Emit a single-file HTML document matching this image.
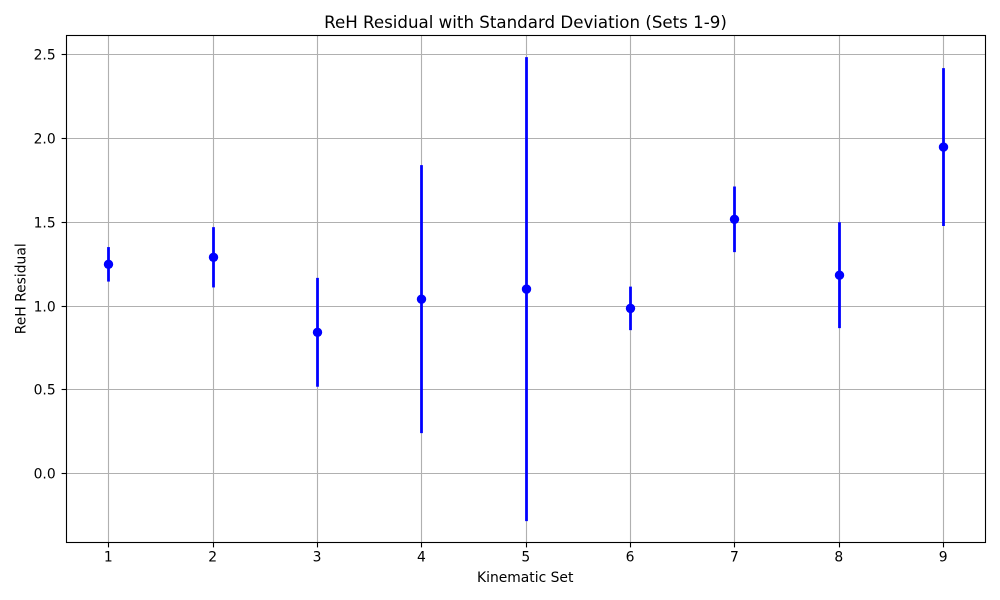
<!DOCTYPE html>
<html lang="en">
<head>
<meta charset="utf-8">
<title>ReH Residual with Standard Deviation (Sets 1-9)</title>
<style>
  html, body { margin: 0; padding: 0; background: #fff; }
  svg { display: block; }
  text { font-family: "DejaVu Sans", "Liberation Sans", sans-serif; fill: #000; }
</style>
</head>
<body>
<svg id="chart" xmlns="http://www.w3.org/2000/svg" width="1000" height="600" viewBox="0 0 1000 600">
  <rect x="0" y="0" width="1000" height="600" fill="#fff"/>
  <g id="grid"></g>
  <g id="series"></g>
  <rect x="66.5" y="35.5" width="919" height="507" fill="none" stroke="#000" stroke-width="1.11"/>
  <g id="ticks"></g>
  <text x="525.5" y="28" font-size="16.67" text-anchor="middle">ReH Residual with Standard Deviation (Sets 1-9)</text>
  <text x="525.2" y="582" font-size="13.89" text-anchor="middle">Kinematic Set</text>
  <text x="0" y="0" font-size="13.89" text-anchor="middle" transform="translate(25.5 288.8) rotate(-90)">ReH Residual</text>
</svg>
<script>
const kinematicSets = [1, 2, 3, 4, 5, 6, 7, 8, 9];
const residualMeans = [1.25, 1.292, 0.844, 1.042, 1.102, 0.987, 1.519, 1.185, 1.95];
const residualStds = [0.103, 0.18, 0.325, 0.80, 1.385, 0.13, 0.196, 0.316, 0.471];
const xTickLabels = ["1", "2", "3", "4", "5", "6", "7", "8", "9"];
const yTickValues = [0, 0.5, 1, 1.5, 2, 2.5];
const yTickLabels = ["0.0", "0.5", "1.0", "1.5", "2.0", "2.5"];

const NS = "http://www.w3.org/2000/svg";
const plot = { left: 66.5, right: 985.5, top: 35.5, bottom: 542.5 };
const xScale = function (v) { return 108.75 + (v - 1) * 104.35; };
const yScale = function (v) { return 473.7 - v * 167.5; };
const snap = function (p) { return Math.floor(p) + 0.5; };

function make(tag, attrs, parent) {
  const el = document.createElementNS(NS, tag);
  Object.keys(attrs).forEach(function (k) { el.setAttribute(k, attrs[k]); });
  parent.appendChild(el);
  return el;
}

const gridG = document.getElementById("grid");
const ticksG = document.getElementById("ticks");
const seriesG = document.getElementById("series");

kinematicSets.forEach(function (s, i) {
  const x = snap(xScale(s));
  const grid = make("line", { x1: x, x2: x, y1: plot.top, y2: plot.bottom, stroke: "#b0b0b0", "stroke-width": 1.11 }, gridG);
  
  
  const tick = make("line", { x1: x, x2: x, y1: plot.bottom, y2: plot.bottom + 4.9, stroke: "#000", "stroke-width": 1.11 }, ticksG);
  
  
  const label = make("text", { x: xScale(s) - 0.4, y: 561.5, "font-size": 13.89, "text-anchor": "middle" }, ticksG);
  label.textContent = xTickLabels[i];
  
  
});

yTickValues.forEach(function (v, i) {
  const y = snap(yScale(v));
  const grid = make("line", { x1: plot.left, x2: plot.right, y1: y, y2: y, stroke: "#b0b0b0", "stroke-width": 1.11 }, gridG);
  
  
  const tick = make("line", { x1: plot.left - 4.9, x2: plot.left, y1: y, y2: y, stroke: "#000", "stroke-width": 1.11 }, ticksG);
  
  
  const label = make("text", { x: 55.7, y: y + 5.2, "font-size": 13.89, "text-anchor": "end" }, ticksG);
  label.textContent = yTickLabels[i];
  
  
});

kinematicSets.forEach(function (s, i) {
  const x = snap(xScale(s));
  const bar = make("line", {
    x1: x, x2: x,
    y1: yScale(residualMeans[i] + residualStds[i]),
    y2: yScale(residualMeans[i] - residualStds[i]),
    stroke: "#0000ff", "stroke-width": 2.78
  }, seriesG);
  
  
  const point = make("circle", { cx: x, cy: yScale(residualMeans[i]), r: 4.7, fill: "#0000ff" }, seriesG);
  
  
});
</script>
</body>
</html>
